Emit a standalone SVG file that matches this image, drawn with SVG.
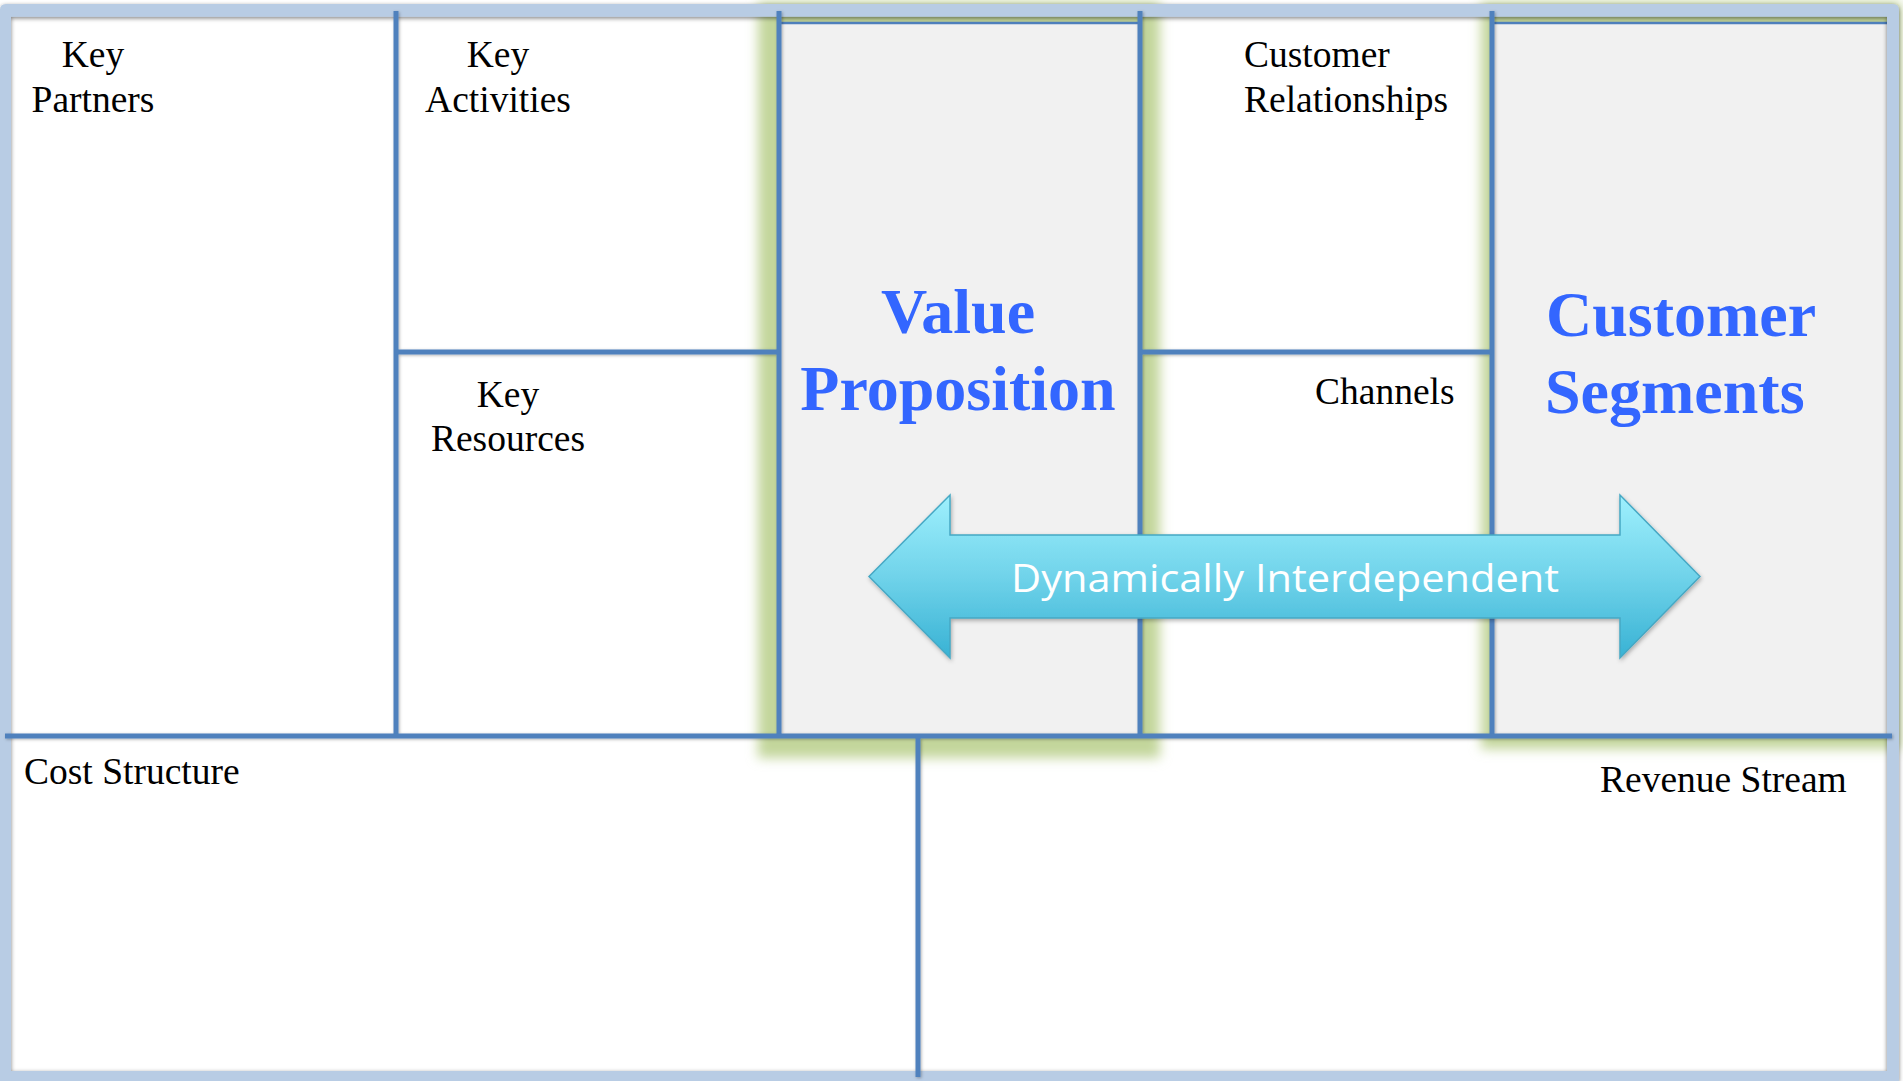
<svg xmlns="http://www.w3.org/2000/svg" width="1903" height="1081" viewBox="0 0 1903 1081">
  <style>
    .lbl { font-family: "Liberation Serif", "Times New Roman", serif; font-size: 37.5px; fill: #000; }
    .big { font-family: "Liberation Serif", "Times New Roman", serif; font-size: 64px; font-weight: bold; fill: #3366ff; }
    .grid { stroke: #4f81bd; stroke-width: 5; fill: none; stroke-linecap: butt; }
    .thin { stroke: #4f81bd; stroke-width: 2.5; fill: none; }
    .col { fill: #f1f1f1; }
    .glow { fill: #c3d69b; }
    .arrow-label { font-family: "Open Sans", "Noto Sans", sans-serif; font-size: 38px; fill: #ffffff; }
  </style>
  <defs>
    <filter id="soft" x="-10%" y="-10%" width="120%" height="120%">
      <feGaussianBlur stdDeviation="6"/>
    </filter>
    <filter id="lineShadow" x="-5%" y="-5%" width="110%" height="110%">
      <feDropShadow dx="1" dy="1" stdDeviation="1.5" flood-color="#000" flood-opacity="0.3"/>
    </filter>
    <filter id="frameShadow" x="-2%" y="-2%" width="104%" height="104%">
      <feDropShadow dx="0" dy="1.5" stdDeviation="2.2" flood-color="#000" flood-opacity="0.5"/>
    </filter>
    <filter id="arrowShadow" x="-5%" y="-20%" width="110%" height="140%">
      <feDropShadow dx="1" dy="2" stdDeviation="2" flood-color="#000" flood-opacity="0.3"/>
    </filter>
    <linearGradient id="arrowFill" x1="0" y1="0" x2="0" y2="1">
      <stop offset="0" stop-color="#9ef0fd"/>
      <stop offset="0.5" stop-color="#70d3ea"/>
      <stop offset="1" stop-color="#38b2d4"/>
    </linearGradient>
  </defs>

  <rect x="0" y="0" width="1903" height="1081" fill="#ffffff"/>

  <!-- green halo behind the two highlighted columns -->
  <g id="halo">
    <rect class="glow" x="758" y="2" width="402" height="756" filter="url(#soft)"/>
    <rect class="glow" x="1481" y="2" width="420" height="747" filter="url(#soft)"/>
  </g>

  <!-- highlighted column fills -->
  <g id="value-proposition">
    <rect class="col" x="779" y="23" width="361" height="713"/>
    <line class="thin" x1="779" y1="23" x2="1140" y2="23"/>
    <text class="big" text-anchor="middle" x="958" y="333">Value</text>
    <text class="big" text-anchor="middle" x="958" y="410">Proposition</text>
  </g>
  <g id="customer-segments">
    <rect class="col" x="1492" y="23" width="395" height="713"/>
    <line class="thin" x1="1492" y1="23" x2="1887" y2="23"/>
    <text class="big" x="1546" y="336">Customer</text>
    <text class="big" x="1545" y="413">Segments</text>
  </g>

  <!-- outer frame -->
  <path id="frame" fill="#b8cce4" fill-rule="evenodd" filter="url(#frameShadow)"
        d="M6,4 H1893 Q1899,4 1899,10 V1081 H0 V10 Q0,4 6,4 Z M11,16.7 V1071 H1887 V16.7 Z"/>

  <!-- dividing lines of the canvas -->
  <g id="grid-lines" filter="url(#lineShadow)">
    <line class="grid" x1="396" y1="11" x2="396" y2="736"/>
    <line class="grid" x1="779" y1="11" x2="779" y2="736"/>
    <line class="grid" x1="1140" y1="11" x2="1140" y2="736"/>
    <line class="grid" x1="1492" y1="11" x2="1492" y2="736"/>
    <line class="grid" x1="396" y1="352" x2="779" y2="352"/>
    <line class="grid" x1="1140" y1="352" x2="1492" y2="352"/>
    <line class="grid" x1="5" y1="736" x2="1892" y2="736"/>
    <line class="grid" x1="918" y1="736" x2="918" y2="1077"/>
  </g>

  <g id="key-partners">
    <text class="lbl" text-anchor="middle" x="93" y="67">Key</text>
    <text class="lbl" text-anchor="middle" x="93" y="112">Partners</text>
  </g>
  <g id="key-activities">
    <text class="lbl" text-anchor="middle" x="498" y="67">Key</text>
    <text class="lbl" text-anchor="middle" x="498" y="112">Activities</text>
  </g>
  <g id="key-resources">
    <text class="lbl" text-anchor="middle" x="508" y="407">Key</text>
    <text class="lbl" text-anchor="middle" x="508" y="451">Resources</text>
  </g>
  <g id="customer-relationships">
    <text class="lbl" x="1244" y="67">Customer</text>
    <text class="lbl" x="1244" y="112">Relationships</text>
  </g>
  <g id="channels">
    <text class="lbl" x="1315" y="404">Channels</text>
  </g>
  <g id="cost-structure">
    <text class="lbl" x="24" y="784">Cost Structure</text>
  </g>
  <g id="revenue-stream">
    <text class="lbl" x="1600" y="792">Revenue Stream</text>
  </g>

  <!-- two-headed arrow linking value proposition and customer segments -->
  <g id="connectors">
    <path filter="url(#arrowShadow)" fill="url(#arrowFill)" stroke="#46a8c4" stroke-width="1.5" stroke-linejoin="miter"
          d="M869,576.5 L950,495 L950,535 L1620,535 L1620,495 L1700,576.5 L1620,658 L1620,618 L950,618 L950,658 Z"/>
    <text class="arrow-label" text-anchor="middle" x="1285" y="592" textLength="548" lengthAdjust="spacingAndGlyphs">Dynamically Interdependent</text>
  </g>
</svg>
